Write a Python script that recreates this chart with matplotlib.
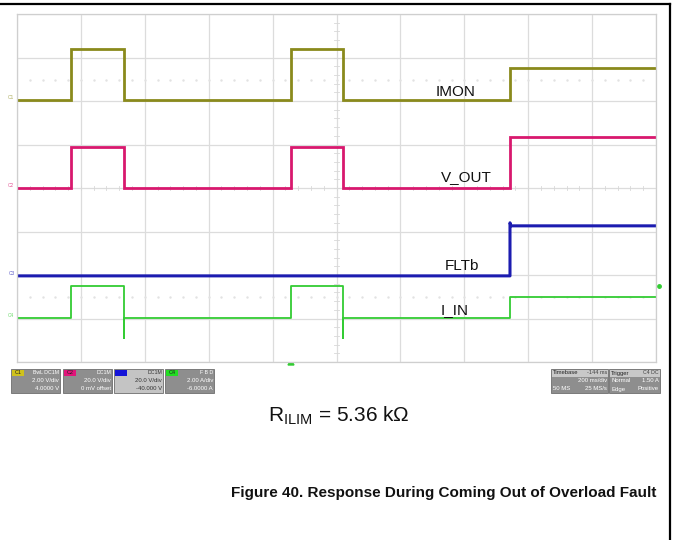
import matplotlib.pyplot as plt
from matplotlib.patches import Rectangle, Polygon

# time axis: 200 ms/div, 10 divisions -> 0..2000 ms ; levels in screen divisions (0..8)
edge_times = [168, 335, 858, 1020, 1543]  # ms, pulse on / off / on / off / final on

imon_low, imon_high, imon_final = 6.02, 7.20, 6.76
vout_low, vout_high, vout_final = 4.00, 4.94, 5.17
flt_low, flt_final, flt_spike = 1.98, 3.13, 3.20
iin_low, iin_high, iin_final, iin_dip = 1.01, 1.75, 1.49, 0.55

trace_names = ["IMON", "V_OUT", "FLTb", "I_IN"]
label_pos = [(1374, 6.21), (1408, 4.25), (1393, 2.21), (1371, 1.20)]

box_titles = ["BwL DC1M", "DC1M", "DC1M", "F B D"]
box_scale = ["2.00 V/div", "20.0 V/div", "20.0 V/div", "2.00 A/div"]
box_offset = ["4.0000 V", "0 mV offset", "-40.000 V", "-6.0000 A"]

c_imon = "#8a8a1c"
c_vout = "#d8186e"
c_flt = "#1c1cb0"
c_iin = "#33cc33"


def pulse_trace(low, high, final, dip=None):
    t0, t1, t2, t3, t4 = edge_times
    xs = [0, t0, t0, t1, t1]
    ys = [low, low, high, high, low if dip is None else dip]
    if dip is not None:
        xs += [t1]
        ys += [low]
    xs += [t2, t2, t3, t3]
    ys += [low, high, high, low if dip is None else dip]
    if dip is not None:
        xs += [t3]
        ys += [low]
    xs += [t4, t4, 2000]
    ys += [low, final, final]
    return xs, ys


W, H = 673, 540
fig = plt.figure(figsize=(W / 100, H / 100), dpi=100)
plt.rcParams['font.family'] = ['Liberation Sans', 'DejaVu Sans']

# background / decoration axes in pixel coordinates
bg = fig.add_axes([0, 0, 1, 1])
bg.set_xlim(0, W)
bg.set_ylim(H, 0)
bg.axis("off")

# page frame (top and right)
bg.plot([0, 670], [4, 4], color="black", lw=1.6)
bg.plot([670, 670], [4, H], color="black", lw=1.6)

# scope screen
gx0, gx1, gy0, gy1 = 17, 656, 14, 362
ax = fig.add_axes([gx0 / W, (H - gy1) / H, (gx1 - gx0) / W, (gy1 - gy0) / H])
ax.set_xlim(0, 2000)
ax.set_ylim(0, 8)
ax.set_xticks(range(0, 2001, 200))
ax.set_yticks(range(0, 9))
ax.grid(True, color="#dcdcdc", lw=0.9)
ax.tick_params(length=0, labelbottom=False, labelleft=False)
for s in ax.spines.values():
    s.set_color("#cfcfcf")
    s.set_linewidth(0.9)

# minor ticks along center lines
for k in range(50):
    t = k * 40
    ax.plot([t, t], [3.95, 4.05], color="#d8d8d8", lw=0.6)
for k in range(40):
    v = k * 0.2
    ax.plot([991, 1009], [v, v], color="#d8d8d8", lw=0.6)
# faint dotted reference lines
for lvl in [6.48, 1.49]:
    ax.plot([i * 40 + 40 for i in range(49)], [lvl] * 49, ls="none", marker="s",
            ms=0.7, color="#e2e2e2")

x, y = pulse_trace(imon_low, imon_high, imon_final)
ax.plot(x, y, color=c_imon, lw=2.0, solid_joinstyle="miter")
x, y = pulse_trace(vout_low, vout_high, vout_final)
ax.plot(x, y, color=c_vout, lw=2.0, solid_joinstyle="miter")
ax.plot([0, edge_times[4], edge_times[4], edge_times[4] + 3, 2000],
        [flt_low, flt_low, flt_spike, flt_final, flt_final], color=c_flt, lw=2.2)
x, y = pulse_trace(iin_low, iin_high, iin_final, dip=iin_dip)
ax.plot(x, y, color=c_iin, lw=1.3)

for name, (tx, ty) in zip(trace_names, label_pos):
    ax.text(tx, ty, name, ha="center", va="center", fontsize=11, color="#111111")

# channel markers at left
for i, (lvl, c) in enumerate(zip([imon_low, vout_low, flt_low, iin_low],
                                 [c_imon, c_vout, c_flt, c_iin])):
    ax.text(-8, lvl + 0.05, "C%d" % (i + 1), ha="right", va="center", fontsize=3.5,
            color=c, alpha=0.7, clip_on=False)

# trigger markers
bg.add_patch(Polygon([[288, 365], [294, 365], [291, 360]], color="#33cc33"))
bg.plot([659], [286], marker="o", ms=2.5, color="#33cc33")

# info boxes
tag_colors = ["#cfc21c", "#e0157a", "#1414d8", "#22dd22"]
box_x = [11, 63, 114, 165]
for i in range(4):
    bx = box_x[i]
    face = "#c4c4c4" if i == 2 else "#8e8e8e"
    tc = "#333333" if i == 2 else "white"
    bg.add_patch(Rectangle((bx, 369), 49, 24, facecolor=face, edgecolor="#6e6e6e", lw=0.6))
    bg.add_patch(Rectangle((bx + 1, 369.5), 12, 6.5, facecolor=tag_colors[i], lw=0))
    bg.text(bx + 7, 373, "C%d" % (i + 1) if i != 2 else "", ha="center", va="center",
            fontsize=4, color="#222222")
    bg.text(bx + 48, 373, box_titles[i], ha="right", va="center", fontsize=3.8, color=tc)
    bg.text(bx + 48, 381, box_scale[i], ha="right", va="center", fontsize=4.3, color=tc)
    bg.text(bx + 48, 389, box_offset[i], ha="right", va="center", fontsize=4.3, color=tc)

bg.add_patch(Rectangle((551, 369), 57, 24, facecolor="#8e8e8e", edgecolor="#6e6e6e", lw=0.6))
bg.add_patch(Rectangle((551.5, 369.5), 56, 7, facecolor="#c8c8c8", lw=0))
bg.text(553, 373, "Timebase", ha="left", va="center", fontsize=4.2, color="#222222")
bg.text(607, 373, "-144 ms", ha="right", va="center", fontsize=4.0, color="#444444")
bg.text(607, 381, "200 ms/div", ha="right", va="center", fontsize=4.3, color="white")
bg.text(553, 389, "50 MS", ha="left", va="center", fontsize=4.3, color="white")
bg.text(607, 389, "25 MS/s", ha="right", va="center", fontsize=4.3, color="white")

bg.add_patch(Rectangle((609, 369), 51, 24, facecolor="#8e8e8e", edgecolor="#6e6e6e", lw=0.6))
bg.add_patch(Rectangle((609.5, 369.5), 50, 7, facecolor="#c8c8c8", lw=0))
bg.text(611, 373, "Trigger", ha="left", va="center", fontsize=4.2, color="#222222")
bg.text(659, 373, "C4 DC", ha="right", va="center", fontsize=3.8, color="#444444")
bg.text(611, 381, "Normal", ha="left", va="center", fontsize=4.3, color="white")
bg.text(659, 381, "1.50 A", ha="right", va="center", fontsize=4.3, color="white")
bg.text(611, 389, "Edge", ha="left", va="center", fontsize=4.3, color="white")
bg.text(659, 389, "Positive", ha="right", va="center", fontsize=4.3, color="white")

# annotation and caption
bg.text(339, 416, r"R$_{\mathregular{ILIM}}$ = 5.36 kΩ", ha="center", va="center",
        fontsize=15, color="#111111")
bg.text(656, 493, "Figure 40. Response During Coming Out of Overload Fault", ha="right",
        va="center", fontsize=11, fontweight="bold", color="#111111")

fig.savefig("out.png", dpi=100)
